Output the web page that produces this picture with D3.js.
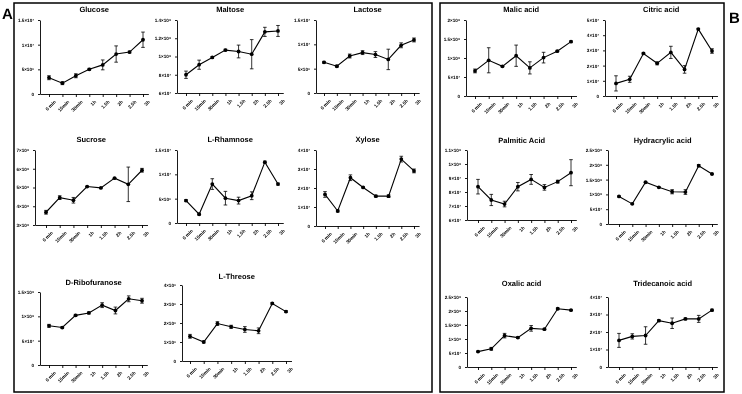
<!DOCTYPE html>
<html><head><meta charset="utf-8">
<script src="https://cdn.jsdelivr.net/npm/d3@7"></script>
<style>body{margin:0;background:#fff}svg{display:block;will-change:transform}text{fill:#000;-webkit-font-smoothing:antialiased;text-rendering:geometricPrecision}</style>
</head><body>
<svg id="c" width="742" height="394"></svg>
<script>
const categories = ["0 min","15min","30min","1h","1.5h","2h","2.5h","3h"];

const glucose = [3.3e6,2.2e6,3.7e6,5.0e6,5.9e6,8.1e6,8.5e6,1.1e7];
const glucoseErr = [0.4e6,0.3e6,0.4e6,0.2e6,1.0e6,1.65e6,0.2e6,1.55e6];
const maltose = [0.80e8,0.91e8,0.99e8,1.07e8,1.055e8,1.025e8,1.27e8,1.28e8];
const maltoseErr = [0.04e8,0.05e8,0.01e8,0.01e8,0.07e8,0.16e8,0.05e8,0.06e8];
const lactose = [6.3e6,5.5e6,7.6e6,8.3e6,7.9e6,6.9e6,9.8e6,1.09e7];
const lactoseErr = [0.2e6,0.2e6,0.4e6,0.4e6,0.6e6,2.1e6,0.5e6,0.4e6];
const sucrose = [3.68e8,4.46e8,4.32e8,5.05e8,4.98e8,5.5e8,5.17e8,5.92e8];
const sucroseErr = [0.1e8,0.1e8,0.15e8,0.02e8,0.02e8,0.02e8,0.92e8,0.1e8];
const rhamnose = [4.6e6,1.8e6,8.0e6,5.1e6,4.6e6,5.6e6,1.25e7,8.0e6];
const rhamnoseErr = [0.2e6,0.2e6,1.1e6,1.4e6,0.7e6,0.8e6,0.2e6,0.2e6];
const xylose = [1.66e7,0.79e7,2.54e7,2.03e7,1.57e7,1.57e7,3.52e7,2.9e7];
const xyloseErr = [0.15e7,0.05e7,0.15e7,0.03e7,0.05e7,0.07e7,0.15e7,0.1e7];
const ribofuranose = [8.05e7,7.7e7,1.02e8,1.07e8,1.23e8,1.12e8,1.36e8,1.32e8];
const ribofuranoseErr = [0.3e7,0.2e7,0.2e7,0.2e7,0.5e7,0.7e7,0.6e7,0.5e7];
const threose = [1.3e6,1.0e6,1.97e6,1.8e6,1.66e6,1.59e6,3.03e6,2.6e6];
const threoseErr = [0.1e6,0.05e6,0.1e6,0.08e6,0.15e6,0.15e6,0.05e6,0.05e6];
const malic = [0.66e8,0.94e8,0.78e8,1.06e8,0.74e8,1.01e8,1.18e8,1.43e8];
const malicErr = [0.05e8,0.33e8,0.02e8,0.28e8,0.16e8,0.14e8,0.02e8,0.02e8];
const citric = [0.83e7,1.1e7,2.8e7,2.15e7,2.87e7,1.75e7,4.4e7,2.96e7];
const citricErr = [0.5e7,0.2e7,0.05e7,0.1e7,0.4e7,0.25e7,0.05e7,0.15e7];
const palmitic = [8.38e7,7.43e7,7.14e7,8.38e7,8.9e7,8.33e7,8.74e7,9.38e7];
const palmiticErr = [0.52e7,0.4e7,0.2e7,0.3e7,0.35e7,0.2e7,0.1e7,0.93e7];
const hydracrylic = [0.93e8,0.68e8,1.41e8,1.24e8,1.09e8,1.08e8,1.97e8,1.69e8];
const hydracrylicErr = [0.02e8,0.02e8,0.02e8,0.02e8,0.07e8,0.08e8,0.04e8,0.02e8];
const oxalic = [0.55e8,0.65e8,1.12e8,1.05e8,1.38e8,1.35e8,2.08e8,2.03e8];
const oxalicErr = [0.02e8,0.05e8,0.08e8,0.03e8,0.1e8,0.03e8,0.03e8,0.02e8];
const tridecanoic = [1.52e7,1.75e7,1.8e7,2.65e7,2.5e7,2.75e7,2.75e7,3.25e7];
const tridecanoicErr = [0.4e7,0.15e7,0.5e7,0.05e7,0.3e7,0.05e7,0.2e7,0.05e7];

const yTicksGlucose = [0,5e6,1e7,1.5e7];
const yTicksMaltose = [6e7,8e7,1e8,1.2e8,1.4e8];
const yTicksLactose = [0,5e6,1e7,1.5e7];
const yTicksSucrose = [3e8,4e8,5e8,6e8,7e8];
const yTicksRhamnose = [0,5e6,1e7,1.5e7];
const yTicksXylose = [0,1e7,2e7,3e7,4e7];
const yTicksRibo = [0,5e7,1e8,1.5e8];
const yTicksThreose = [0,1e6,2e6,3e6,4e6];
const yTicksMalic = [0,5e7,1e8,1.5e8,2e8];
const yTicksCitric = [0,1e7,2e7,3e7,4e7,5e7];
const yTicksPalmitic = [6e7,7e7,8e7,9e7,1e8,1.1e8];
const yTicksHydracrylic = [0,5e7,1e8,1.5e8,2e8,2.5e8];
const yTicksOxalic = [0,5e7,1e8,1.5e8,2e8,2.5e8];
const yTicksTridecanoic = [0,1e7,2e7,3e7,4e7];

const panels = [
  {title:"Glucose", v:glucose, e:glucoseErr, t:yTicksGlucose},
  {title:"Maltose", v:maltose, e:maltoseErr, t:yTicksMaltose},
  {title:"Lactose", v:lactose, e:lactoseErr, t:yTicksLactose},
  {title:"Sucrose", v:sucrose, e:sucroseErr, t:yTicksSucrose},
  {title:"L-Rhamnose", v:rhamnose, e:rhamnoseErr, t:yTicksRhamnose},
  {title:"Xylose", v:xylose, e:xyloseErr, t:yTicksXylose},
  {title:"D-Ribofuranose", v:ribofuranose, e:ribofuranoseErr, t:yTicksRibo},
  {title:"L-Threose", v:threose, e:threoseErr, t:yTicksThreose},
  {title:"Malic acid", v:malic, e:malicErr, t:yTicksMalic},
  {title:"Citric acid", v:citric, e:citricErr, t:yTicksCitric},
  {title:"Palmitic Acid", v:palmitic, e:palmiticErr, t:yTicksPalmitic},
  {title:"Hydracrylic acid", v:hydracrylic, e:hydracrylicErr, t:yTicksHydracrylic},
  {title:"Oxalic acid", v:oxalic, e:oxalicErr, t:yTicksOxalic},
  {title:"Tridecanoic acid", v:tridecanoic, e:tridecanoicErr, t:yTicksTridecanoic}
];

// layout: axisX, firstX, lastX, top, bottom, titleY
const layout = [
  [40,49,143,20,94,10],[177,186,278,20,93,10],[316,324,414,20,93,10],
  [35,46,142,150,225,140],[177,186,278,150,223,140],[316,325,414,150,226,140],
  [40,49,142,292,365,283],[182,190,286,285,361,277],
  [466,475,571,20,96,10],[605,616,712,20,96,10],
  [467,478,571,150,220,141],[608,619,712,150,224,141],
  [467,478,571,297,367,284],[608,619,712,297,367,284]
];

const sup = {"0":"⁰","1":"¹","2":"²","3":"³","4":"⁴","5":"⁵","6":"⁶","7":"⁷","8":"⁸","9":"⁹"};
function fmt(v){
  if(v===0) return "0";
  let ex = Math.floor(Math.log10(v)+1e-9);
  let m = +(v/Math.pow(10,ex)).toFixed(2);
  return m + "×10" + String(ex).split("").map(c=>sup[c]).join("");
}

const svg = d3.select("#c");
const FONT = "'Liberation Sans', Arial, sans-serif";

// frames
svg.append("rect").attr("x",14).attr("y",3).attr("width",418).attr("height",389)
  .attr("fill","none").attr("stroke","#000").attr("stroke-width",1.5);
svg.append("rect").attr("x",440).attr("y",3).attr("width",284).attr("height",389)
  .attr("fill","none").attr("stroke","#000").attr("stroke-width",1.5);
svg.append("text").attr("x",2).attr("y",19).text("A").attr("font-family",FONT)
  .attr("font-weight","bold").attr("font-size",15);
svg.append("text").attr("x",729).attr("y",23).text("B").attr("font-family",FONT)
  .attr("font-weight","bold").attr("font-size",15);

panels.forEach((p,i)=>{
  const [ax,x0,x1,top,bot,ty] = layout[i];
  const step = (x1-x0)/7;
  const x = d3.scaleLinear().domain([0,7]).range([x0,x1]);
  const xEnd = x1 + step*0.4;
  const y = d3.scaleLinear().domain([p.t[0], p.t[p.t.length-1]]).range([bot, top]);
  const g = svg.append("g");

  // title
  g.append("text").attr("x",(ax+xEnd)/2).attr("y",ty).attr("text-anchor","middle")
    .attr("dominant-baseline","middle")
    .attr("font-family",FONT).attr("font-weight","bold").attr("font-size",7.5).text(p.title);

  // y axis
  const ya = g.append("g").attr("transform",`translate(${ax},0)`)
    .call(d3.axisLeft(y).tickValues(p.t).tickFormat(fmt).tickSize(2).tickSizeOuter(0));
  ya.selectAll("text").attr("font-family",FONT).attr("font-size",4.6).attr("font-weight","bold").attr("dx","-0.2em");

  // x axis
  const xs = d3.scaleLinear().domain([(ax - x0)/step, (xEnd - x0)/step]).range([ax, xEnd]);
  const xa = g.append("g").attr("transform",`translate(0,${bot})`)
    .call(d3.axisBottom(xs).tickValues(d3.range(categories.length)).tickFormat(j=>categories[j]).tickSize(3).tickSizeOuter(0));
  xa.selectAll("text").attr("font-family",FONT).attr("font-size",4.8).attr("font-weight","bold")
    .attr("text-anchor","end").attr("transform","translate(1.5,3) rotate(-45)").attr("dy","0.3em");
  g.selectAll(".domain,.tick line").attr("stroke","#000").attr("stroke-width",0.9);

  // line
  g.append("path").datum(p.v).attr("fill","none").attr("stroke","#000").attr("stroke-width",1.1)
    .attr("d", d3.line().x((d,j)=>x(j)).y(d=>y(d)));

  // error bars
  const eb = g.append("g").attr("stroke","#000").attr("stroke-width",0.8);
  p.v.forEach((d,j)=>{
    const e = p.e[j];
    if(e<=0) return;
    const cx = x(j), yh = y(d+e), yl = y(d-e);
    eb.append("line").attr("x1",cx).attr("x2",cx).attr("y1",yh).attr("y2",yl);
    eb.append("line").attr("x1",cx-1.8).attr("x2",cx+1.8).attr("y1",yh).attr("y2",yh);
    eb.append("line").attr("x1",cx-1.8).attr("x2",cx+1.8).attr("y1",yl).attr("y2",yl);
  });

  // markers
  g.selectAll("circle.m").data(p.v).join("circle").attr("class","m")
    .attr("cx",(d,j)=>x(j)).attr("cy",d=>y(d)).attr("r",1.9).attr("fill","#000");
});
</script>
</body></html>
